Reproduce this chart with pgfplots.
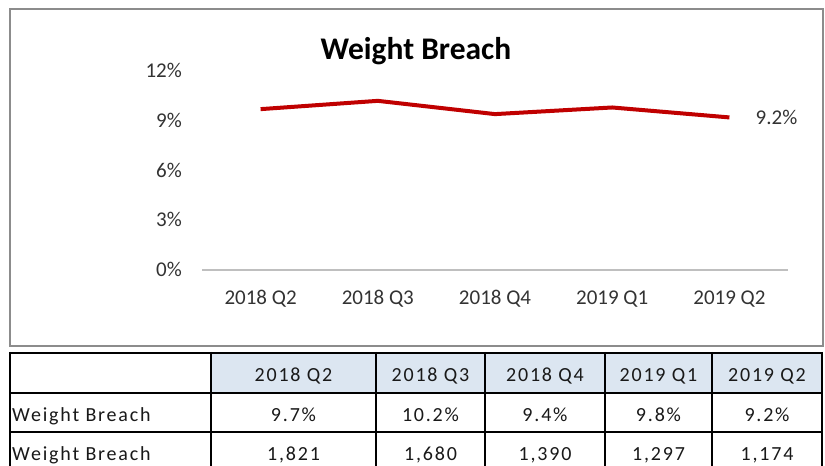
\documentclass[border=0pt]{standalone}
\usepackage{fontspec}
\setmainfont{Carlito}
\newfontfamily\tabfont[LetterSpace=9]{Carlito}
\usepackage{pgfplots}
\pgfplotsset{compat=1.18}

\definecolor{breachred}{HTML}{C00000}
\definecolor{ticktxt}{HTML}{333333}
\definecolor{hdrfill}{HTML}{DCE6F1}
\definecolor{framegray}{HTML}{8C8C8C}
\definecolor{axisgray}{HTML}{BFBFBF}

\begin{document}
\begin{tikzpicture}
\useasboundingbox (0,0) rectangle (825bp,466bp);
\fill[white] (0,0) rectangle (825bp,466bp);

% chart frame
\draw[framegray, line width=2bp] (10bp,120bp) rectangle (823bp,457bp);

\node[anchor=base, font=\fontsize{31.5bp}{36bp}\bfseries\selectfont] at (416bp,406bp) {Weight Breach};

\begin{axis}[
    at={(202bp,196bp)}, anchor=south west,
    scale only axis, width=586bp, height=199bp,
    xmin=-0.5, xmax=4.5, ymin=0, ymax=12,
    axis x line=bottom, axis y line=left,
    x axis line style={axisgray, line width=1.5bp, -},
    y axis line style={draw=none},
    major tick length=0pt, tick style={draw=none},
    xtick={0,1,2,3,4},
    xticklabels={2018 Q2,2018 Q3,2018 Q4,2019 Q1,2019 Q2},
    ytick={0,3,6,9,12},
    yticklabel={\pgfmathprintnumber{\tick}\%},
    /pgf/number format/assume math mode=true,
    xticklabel style={ticktxt, font=\fontsize{21bp}{24bp}\selectfont, inner sep=0pt, anchor=base, yshift=-35bp},
    yticklabel style={ticktxt, font=\fontsize{21bp}{24bp}\selectfont, inner sep=0pt, anchor=base east, xshift=-20bp, yshift=-6.7bp},
    clip=false,
]
\addplot[breachred, line width=4bp, mark=none] coordinates {
    (0,9.7)(1,10.2)(2,9.4)(3,9.8)(4,9.2)
} node[pos=1, anchor=west, xshift=21bp, ticktxt, font=\fontsize{21bp}{24bp}\selectfont] {9.2\%};
\end{axis}

% data table
\fill[hdrfill] (211bp,73bp) rectangle (822bp,113bp);
\draw[black, line width=2bp] (10bp,113bp) -- (822bp,113bp)
    (10bp,73bp) -- (822bp,73bp)
    (10bp,34bp) -- (822bp,34bp);
\foreach \x in {10,211,376,485,605,712,822}
    \draw[black, line width=2bp] (\x bp,114bp) -- (\x bp,-5bp);

\begin{scope}[every node/.style={font=\tabfont\fontsize{20bp}{24bp}\selectfont, text=black!90, inner sep=0pt}]
\foreach \cx/\hd/\pc/\nn in {293.5/2018 Q2/9.7\%/{1,821}, 430.5/2018 Q3/10.2\%/{1,680},
    545/2018 Q4/9.4\%/{1,390}, 658.5/2019 Q1/9.8\%/{1,297}, 767/2019 Q2/9.2\%/{1,174}} {
  \node[anchor=base] at (\cx bp,84bp) {\hd};
  \node[anchor=base] at (\cx bp,44bp) {\pc};
  \node[anchor=base] at (\cx bp,6bp) {\nn};
}
\node[anchor=base west] at (12bp,44bp) {Weight Breach};
\node[anchor=base west] at (12bp,6bp) {Weight Breach};
\end{scope}
\end{tikzpicture}
\end{document}
